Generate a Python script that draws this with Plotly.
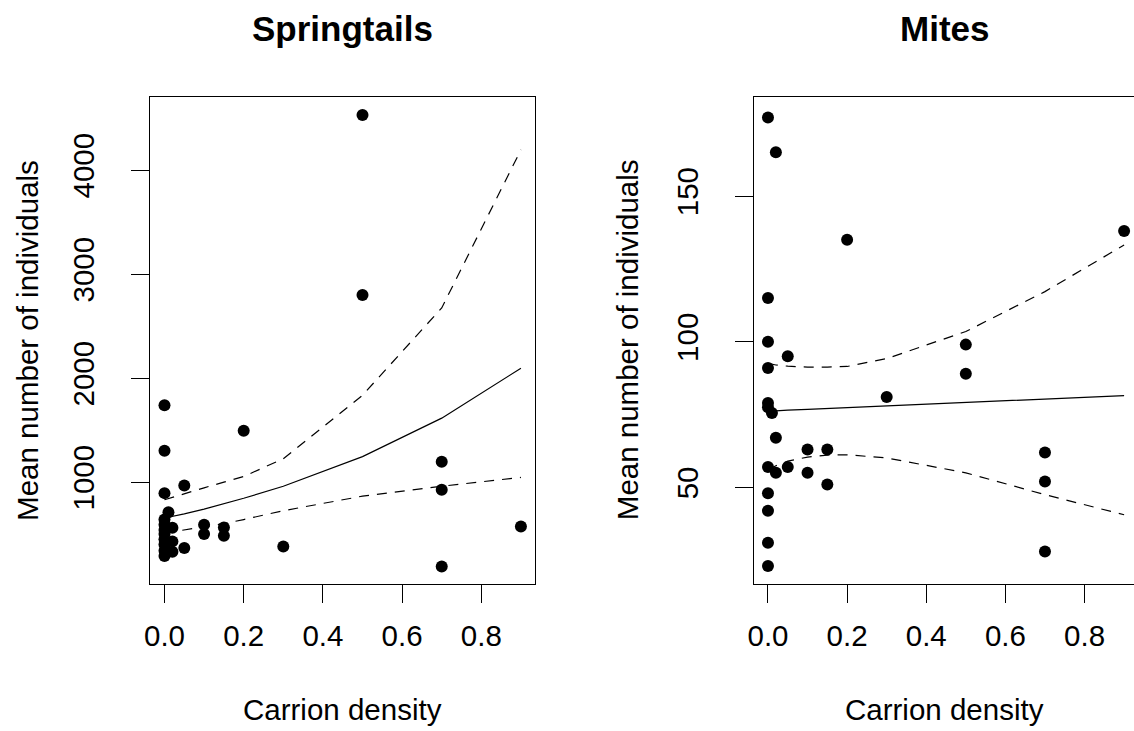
import plotly.graph_objects as go

# ---------------- data ----------------
spring_x = [0, 0, 0, 0, 0, 0, 0, 0, 0, 0, 0, 0.01, 0.02, 0.02, 0.02,
            0.05, 0.05, 0.1, 0.1, 0.15, 0.15, 0.2, 0.3, 0.5, 0.5, 0.7, 0.7, 0.7, 0.9]
spring_y = [1740, 1301, 894, 640, 590, 540, 500, 450, 400, 340, 290, 710, 560, 430, 330,
            967, 366, 590, 500, 564, 484, 1493, 381, 4530, 2800, 1195, 926, 189, 574]

mite_x = [0, 0, 0, 0, 0, 0, 0, 0, 0, 0, 0, 0.01, 0.02, 0.02, 0.02,
          0.05, 0.05, 0.1, 0.1, 0.15, 0.15, 0.2, 0.3, 0.5, 0.5, 0.7, 0.7, 0.7, 0.9]
mite_y = [177, 115, 100, 91, 79, 77.5, 57, 48, 42, 31, 23, 75.5, 165, 67, 55,
          95, 57, 63, 55, 63, 51, 135, 81, 99, 89, 62, 52, 28, 138]

fit_x = [0, 0.01, 0.02, 0.05, 0.1, 0.15, 0.2, 0.3, 0.5, 0.7, 0.9]
spring_fit = [655, 662, 670, 695, 740, 790, 845, 960, 1245, 1615, 2095]
spring_upper = [830, 842, 853, 885, 945, 1000, 1054, 1225, 1835, 2675, 4195]
spring_lower = [510, 516, 522, 535, 565, 600, 640, 725, 865, 960, 1045]

mite_fit = [76.1, 76.2, 76.3, 76.5, 76.8, 77.1, 77.4, 78.0, 79.0, 80.2, 81.5]
mite_upper = [92.6, 92.3, 92.0, 91.6, 91.3, 91.3, 91.5, 94.2, 103.5, 117.2, 133.2]
mite_lower = [56.0, 56.8, 57.4, 59.0, 60.4, 61.1, 61.2, 60.1, 55.0, 47.5, 40.6]

x_ticks = [0, 0.2, 0.4, 0.6, 0.8]
x_ticktext = ["0.0", "0.2", "0.4", "0.6", "0.8"]
spring_yticks = [1000, 2000, 3000, 4000]
mite_yticks = [50, 100, 150]

titles = ["Springtails", "Mites"]
x_title = "Carrion density"
y_title = "Mean number of individuals"

# ---------------- figure ----------------
W, H = 1134, 731
FONT = "Liberation Sans, Arial, sans-serif"
TICKSIZE = 29.5

fig = go.Figure()

def add_panel(xs, ys, fx, fit, up, lo, xa, ya):
    for arr, dash in ((up, "10px,8px"), (lo, "10px,8px"), (fit, "solid")):
        fig.add_trace(go.Scatter(x=fx, y=arr, mode="lines", xaxis=xa, yaxis=ya,
                                 line=dict(color="black", width=1.2, dash=dash),
                                 showlegend=False, hoverinfo="skip"))
    fig.add_trace(go.Scatter(x=xs, y=ys, mode="markers", xaxis=xa, yaxis=ya,
                             marker=dict(color="black", size=12, line=dict(width=0)),
                             showlegend=False))

add_panel(spring_x, spring_y, fit_x, spring_fit, spring_upper, spring_lower, "x", "y")
add_panel(mite_x, mite_y, fit_x, mite_fit, mite_upper, mite_lower, "x2", "y2")

ydom = [(H - 583.5) / H, (H - 97) / H]
xdom1 = [145 / W, 532 / W]
xdom2 = [751.7 / W, 1.0]

common_x = dict(tickvals=x_ticks, ticktext=x_ticktext, ticks="outside", ticklen=18,
                tickwidth=1, tickcolor="black", showline=True, linecolor="black",
                linewidth=1, mirror=True, showgrid=False, zeroline=False,
                tickfont=dict(family=FONT, size=TICKSIZE, color="black"),
                ticklabelstandoff=8)
common_y = dict(ticks="outside", ticklen=18, tickwidth=1, tickcolor="black",
                showline=True, linecolor="black", linewidth=1, showgrid=False,
                zeroline=False, tickangle=-90,
                tickfont=dict(family=FONT, size=TICKSIZE, color="black"),
                ticklabelstandoff=25)

fig.update_layout(
    width=W, height=H, margin=dict(l=0, r=0, t=0, b=0),
    paper_bgcolor="white", plot_bgcolor="white", showlegend=False,
    xaxis=dict(domain=xdom1, range=[-0.036, 0.936], anchor="y", **common_x),
    yaxis=dict(domain=ydom, range=[25, 4703], anchor="x", tickvals=spring_yticks,
               mirror=True, **common_y),
    xaxis2=dict(domain=xdom2, range=[-0.036, 0.925], anchor="y2", **common_x),
    yaxis2=dict(domain=ydom, range=[17, 184], anchor="x2", tickvals=mite_yticks,
                mirror=False, **common_y),
)

ann = []
centers = [(145 + 532) / 2 / W, (751.7 + 1136) / 2 / W]
for c, t in zip(centers, titles):
    ann.append(dict(text="<b>%s</b>" % t, x=c, y=(H - 28) / H, xref="paper", yref="paper",
                    showarrow=False, xanchor="center", yanchor="middle",
                    font=dict(family=FONT, size=35, color="black")))
    ann.append(dict(text=x_title, x=c, y=(H - 709) / H, xref="paper", yref="paper",
                    showarrow=False, xanchor="center", yanchor="middle",
                    font=dict(family=FONT, size=29.5, color="black")))
for xp in (21, 624.5):
    ann.append(dict(text=y_title, x=xp / W, y=(H - 340) / H, xref="paper", yref="paper",
                    showarrow=False, xanchor="center", yanchor="middle", textangle=-90,
                    font=dict(family=FONT, size=29.5, color="black")))
fig.update_layout(annotations=ann)

fig.write_html("out.html", config={"displayModeBar": False, "staticPlot": True},
               post_script="document.body.style.margin='0';document.body.style.overflow='hidden';")
